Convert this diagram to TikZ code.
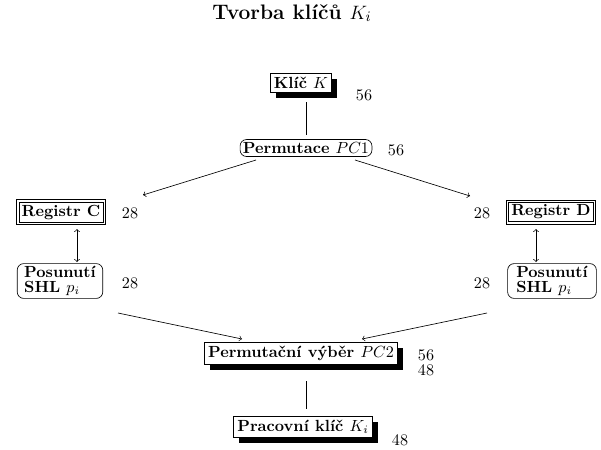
\documentclass[tikz,border=0pt]{standalone}
\usepackage{amssymb, mathtools, amsmath}
\usetikzlibrary{shadows,fit}

\begin{document}
\begin{tikzpicture}[x=0.62pt,y=0.62pt,yscale=-1]
\tikzset{
  shbox/.style={draw, fill=white, inner sep=2.2pt, font=\bfseries,
    drop shadow={shadow xshift=3.3pt, shadow yshift=-3.6pt, fill=black, opacity=1}},
  rbox/.style={draw, rounded corners=4pt, inner sep=1.8pt, font=\bfseries},
  dbox/.style={draw, inner sep=1.6pt, font=\bfseries},
  dframe/.style={draw, inner sep=1.3pt},
  num/.style={inner sep=0.75pt}
}
\useasboundingbox (0,0) rectangle (601,449);

% Title
\node [font=\fontsize{13}{15}\selectfont\bfseries] (title) at (292,13) {Tvorba klíčů $K_i$};

% Boxes
\node [shbox] (klic) at (301,83) {Klíč $K$};
\node [rbox] (pc1) at (306,148) {Permutace $PC1$};
\node [dbox] (regc) at (61,212) {Registr C};
\node [dframe, fit=(regc)] (regcf) {};
\node [dbox] (regd) at (551,212) {Registr D};
\node [dframe, fit=(regd)] (regdf) {};
\node [rbox, align=left, minimum width=53pt] (shlc) at (60,281) {Posunutí\\[-3pt]SHL $p_i$};
\node [rbox, align=left, minimum width=55pt] (shld) at (552,281) {Posunutí\\[-3pt]SHL $p_i$};
\node [shbox] (pc2) at (301,353) {Permutační výběr $PC2$};
\node [shbox] (prac) at (303,427) {Pracovní klíč $K_i$};

% Text Node
\node [num] (nklic) at (364,95) {56};
\node [num] (npc1) at (396,150) {56};
\node [num] (nregc) at (130,213) {28};
\node [num] (nregd) at (482,213) {28};
\node [num] (nshlc) at (130,283) {28};
\node [num] (nshld) at (482,283) {28};
\node [inner sep=0pt] (npc2a) at (426,355) {56};
\node [inner sep=0pt] (npc2b) at (426,370) {48};
\node [num] (nprac) at (400,440) {48};

% Connectors
\coordinate (kb) at (306,102);
\coordinate (pt) at (306,135);
\draw (kb) -- (pt);
\coordinate (pl) at (256,160);
\coordinate (pr) at (355,160);
\coordinate (cl) at (143,195);
\coordinate (cr) at (470,196);
\draw [->] (pl) -- (cl);
\draw [->] (pr) -- (cr);
\coordinate (ct) at (77,229);
\coordinate (cb) at (77,262);
\draw [<->] (ct) -- (cb);
\coordinate (dt) at (536,229);
\coordinate (db) at (536,262);
\draw [<->] (dt) -- (db);
\coordinate (sl) at (118,313);
\coordinate (sr) at (487,313);
\coordinate (el) at (242,339);
\coordinate (er) at (362,339);
\draw [->] (sl) -- (el);
\draw [->] (sr) -- (er);
\coordinate (qb) at (306,381);
\coordinate (qt) at (306,409);
\draw (qb) -- (qt);

\end{tikzpicture}
\end{document}
